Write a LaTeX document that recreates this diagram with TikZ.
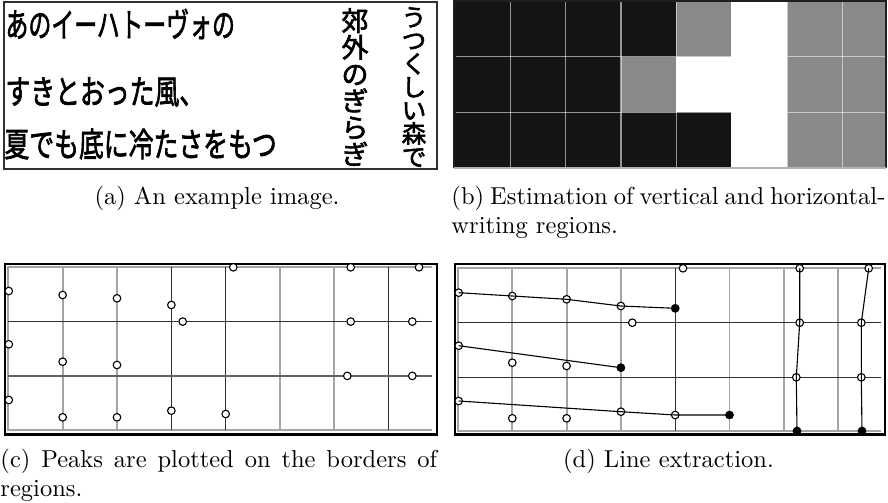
\documentclass[tikz,border=0pt]{standalone}
\usepackage{fontspec}
\usepackage{graphicx}
\newfontfamily\jp[FakeBold=2.2]{Noto Sans CJK JP}
\definecolor{cellblack}{HTML}{141414}
\definecolor{cellgray}{HTML}{898989}
\definecolor{lgray}{HTML}{A4A4A4}
\definecolor{dgray}{HTML}{303030}
\begin{document}
\begin{tikzpicture}[x=0.408163pt,y=-0.408163pt,
  jpt/.style={inner sep=0pt,font=\jp\fontsize{13}{13}\selectfont},
  capt/.style={inner sep=0pt,font=\fontsize{10}{12}\selectfont},
  glight/.style={draw=lgray,line width=0.75pt},
  gdark/.style={draw=dgray,line width=0.5pt},
  gmid/.style={draw=black!62,line width=0.6pt},
  outerframe/.style={draw=black,line width=0.85pt},
  bgrid/.style={draw=white,draw opacity=0.55,line width=0.5pt},
  peak/.style={circle,draw=black,fill=white,line width=0.45pt,inner sep=0pt,minimum size=3.1pt},
  endpk/.style={peak,fill=black},
  extr/.style={draw=black,line width=0.45pt}]
\useasboundingbox (0,0) rectangle (888,502);

% ---------- (a) example image ----------
\draw[draw=dgray,line width=0.5pt] (4,2) rectangle (437,169);
\node[jpt,anchor=west] (la1) at (5,24) {\scalebox{0.72}[1.05]{あのイーハトーヴォの}};
\node[jpt,anchor=west] (la2) at (5,92) {\scalebox{0.78}[1.05]{すきとおった風、}};
\node[jpt,anchor=west] (la3) at (4,144) {\scalebox{0.78}[1.05]{夏でも底に冷たさをもつ}};
\node[inner sep=0pt,align=center,font=\jp\fontsize{11}{10.9}\selectfont] (va1) at (355,87) {郊\\外\\の\\ぎ\\ら\\ぎ};
\node[inner sep=0pt,align=center,font=\jp\fontsize{10}{9.5}\selectfont] (va2) at (414,87) {う\\つ\\く\\し\\い\\森\\で};

% ---------- (b) region estimation ----------
\fill[cellblack] (454,1) rectangle (886,168);
\fill[cellgray] (787,1) rectangle (886,168);
\fill[cellgray] (676.3,1) rectangle (731.3,56.7);
\fill[cellgray] (621,56.7) rectangle (676.3,112.3);
\fill[white] (731.3,1) rectangle (787,168);
\fill[white] (676.3,56.7) rectangle (731.3,112.3);
\foreach \x in {510.7,565.7,621,676.3,731.3,787,842.3}
  \draw[bgrid] (\x,1) -- (\x,168);
\foreach \y in {56.7,112.3}
  \draw[bgrid] (456,\y) -- (886,\y);
\draw[draw=black!88,line width=0.8pt] (454,168) -- (454,1) -- (886,1) -- (886,168);
\draw[draw=black!30,line width=0.5pt] (454,168) -- (886,168);

% ---------- (c) peaks ----------
\draw[outerframe] (5,264) rectangle (437,434.5);
\draw[glight] (431.7,267.3) -- (8.3,267.3) -- (8.3,430) -- (431.7,430);
\draw[glight] (62.65,267.3) -- (62.65,430);
\draw[glight] (117,267.3) -- (117,430);
\draw[gdark] (171.35,267.3) -- (171.35,430);
\draw[gdark] (225.7,267.3) -- (225.7,430);
\draw[glight] (280.05,267.3) -- (280.05,430);
\draw[glight] (334.4,267.3) -- (334.4,430);
\draw[gdark] (388.75,267.3) -- (388.75,430);
\draw[gdark] (8.3,321.6) -- (431.7,321.6);
\draw[gmid] (8.3,375.9) -- (431.7,375.9);

\node[peak] (c1) at (8.8,291) {};
\node[peak] (c2) at (62.65,295) {};
\node[peak] (c3) at (117,298.3) {};
\node[peak] (c4) at (171.35,305) {};
\node[peak] (c5) at (182.7,321.6) {};
\node[peak] (c6) at (233.3,267.3) {};
\node[peak] (c7) at (350.7,267.3) {};
\node[peak] (c8) at (419,267.3) {};
\node[peak] (c9) at (350.7,321.6) {};
\node[peak] (c10) at (412.3,321.6) {};
\node[peak] (c11) at (8.8,344.3) {};
\node[peak] (c12) at (62.65,361.7) {};
\node[peak] (c13) at (117,365) {};
\node[peak] (c14) at (347.3,375.9) {};
\node[peak] (c15) at (412.3,375.9) {};
\node[peak] (c16) at (8.8,400) {};
\node[peak] (c17) at (62.65,417.3) {};
\node[peak] (c18) at (117,417.3) {};
\node[peak] (c19) at (171.35,410.7) {};
\node[peak] (c20) at (225.7,414) {};

% ---------- (d) line extraction ----------
\draw[outerframe] (455,264) rectangle (885,434.5);
\draw[glight] (881.3,268.3) -- (458.2,268.3) -- (458.2,431) -- (881.3,431);
\draw[glight] (512.3,268.3) -- (512.3,431);
\draw[glight] (566.6,268.3) -- (566.6,431);
\draw[glight] (620.9,268.3) -- (620.9,431);
\draw[gdark] (675.2,268.3) -- (675.2,431);
\draw[glight] (729.5,268.3) -- (729.5,431);
\draw[glight,line width=0.9pt] (783.8,268.3) -- (783.8,431);
\draw[glight] (838.1,268.3) -- (838.1,431);
\draw[gdark] (458.2,322.7) -- (881.3,322.7);
\draw[gdark] (458.2,377.3) -- (881.3,377.3);

\node[peak] (d1) at (458.7,292.7) {};
\node[peak] (d2) at (512.3,296) {};
\node[peak] (d3) at (566.6,299.3) {};
\node[peak] (d4) at (620.9,306) {};
\node[endpk] (d5) at (675.2,308.3) {};
\node[peak] (d6) at (632.3,322.7) {};
\node[peak] (d7) at (683,268.3) {};
\node[peak] (d8) at (799.7,268.3) {};
\node[peak] (d9) at (868.7,268.3) {};
\node[peak] (d10) at (799.7,322.7) {};
\node[peak] (d11) at (861.3,322.7) {};
\node[peak] (d12) at (458.7,345.7) {};
\node[peak] (d13) at (512.3,362.7) {};
\node[peak] (d14) at (566.6,366) {};
\node[endpk] (d15) at (620.9,367.7) {};
\node[peak] (d16) at (796.3,377.3) {};
\node[peak] (d17) at (861.3,377.3) {};
\node[peak] (d18) at (458.7,401) {};
\node[peak] (d19) at (512.3,418.3) {};
\node[peak] (d20) at (566.6,418.3) {};
\node[peak] (d21) at (620.9,411.7) {};
\node[peak] (d22) at (675.2,415) {};
\node[endpk] (d23) at (729.5,415) {};
\node[endpk] (d24) at (797,431) {};
\node[endpk] (d25) at (862,431) {};

\draw[extr] (d1.center) -- (d2.center) -- (d3.center) -- (d4.center) -- (d5.center);
\draw[extr] (d12.center) -- (d15.center);
\draw[extr] (d18.center) -- (d21.center) -- (d22.center) -- (d23.center);
\draw[extr] (d8.center) -- (d10.center) -- (d16.center) -- (d24.center);
\draw[extr] (d9.center) -- (d11.center) -- (d17.center) -- (d25.center);

% ---------- captions ----------
\node[capt,anchor=base] (capa) at (217,204) {(a) An example image.};
\node[capt,anchor=base west] (capb1) at (451,204) {\makebox[177.1pt][s]{(b) Estimation of vertical and horizontal-}};
\node[capt,anchor=base west] (capb2) at (451,233.4) {writing regions.};
\node[capt,anchor=base west] (capc1) at (0,467) {\makebox[178.2pt][s]{(c) Peaks are plotted on the borders of}};
\node[capt,anchor=base west] (capc2) at (0,496.5) {regions.};
\node[capt,anchor=base] (capd) at (668.5,467) {(d) Line extraction.};
\end{tikzpicture}
\end{document}
